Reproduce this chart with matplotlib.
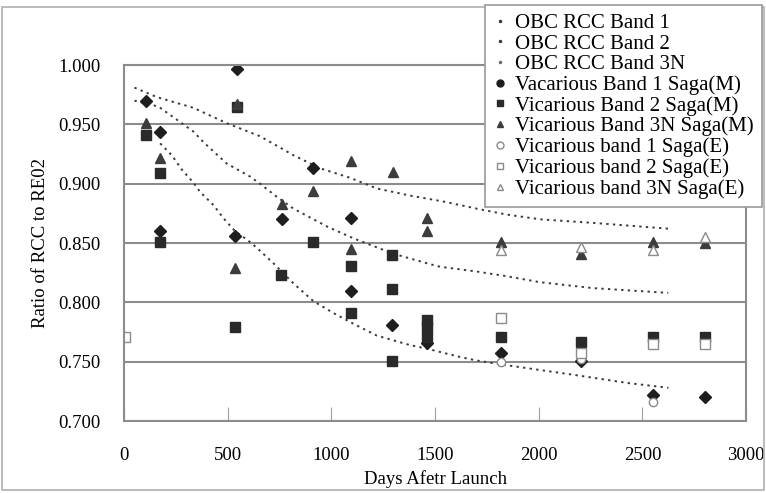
import matplotlib.pyplot as plt
from matplotlib.lines import Line2D
from matplotlib.patches import Rectangle

plt.rcParams['font.family'] = ['Liberation Serif', 'DejaVu Serif']

# OBC RCC trend curves (days after launch, ratio)
obc_b1_days = [174, 230, 278, 334, 367, 431, 479, 535, 592, 640, 720, 817, 913, 1010,
               1106, 1219, 1379, 1460, 1620, 1701, 1846, 2006, 2167, 2280, 2431, 2625]
obc_b1_vals = [0.934, 0.924, 0.912, 0.901, 0.893, 0.882, 0.871, 0.860, 0.853, 0.846, 0.833,
               0.816, 0.801, 0.791, 0.782, 0.772, 0.764, 0.761, 0.754, 0.751, 0.747, 0.743,
               0.739, 0.736, 0.732, 0.728]
obc_b2_days = [50, 166, 270, 334, 383, 495, 608, 656, 736, 817, 978, 1106, 1299, 1460,
               1524, 1701, 1846, 2006, 2263, 2625]
obc_b2_vals = [0.970, 0.965, 0.952, 0.944, 0.935, 0.917, 0.906, 0.900, 0.889, 0.879, 0.864,
               0.854, 0.841, 0.833, 0.830, 0.826, 0.822, 0.817, 0.812, 0.808]
obc_b3_days = [50, 158, 334, 495, 656, 817, 945, 1090, 1219, 1379, 1540, 1701, 1846, 2006,
               2262, 2633]
obc_b3_vals = [0.981, 0.973, 0.964, 0.951, 0.940, 0.924, 0.913, 0.905, 0.896, 0.890, 0.885,
               0.879, 0.874, 0.870, 0.867, 0.862]

# Vicarious calibration, Saga(M)
vm_b1_days = [106, 174, 174, 543, 535, 760, 913, 1095, 1095, 1290, 1460, 1820, 2205, 2550, 2800]
vm_b1_vals = [0.970, 0.944, 0.860, 0.997, 0.856, 0.870, 0.913, 0.871, 0.810, 0.781, 0.766,
              0.757, 0.751, 0.722, 0.720]
vm_b2_days = [106, 174, 174, 543, 535, 755, 913, 1095, 1095, 1290, 1290, 1290, 1460, 1460,
              1460, 1820, 2205, 2550, 2800]
vm_b2_vals = [0.941, 0.909, 0.851, 0.965, 0.779, 0.823, 0.851, 0.831, 0.791, 0.840, 0.811,
              0.751, 0.785, 0.779, 0.771, 0.771, 0.767, 0.771, 0.771]
vm_b3_days = [106, 174, 543, 535, 760, 913, 1095, 1095, 1296, 1460, 1460, 1820, 2205, 2550, 2800]
vm_b3_vals = [0.951, 0.922, 0.967, 0.829, 0.883, 0.894, 0.919, 0.845, 0.910, 0.871, 0.860,
              0.851, 0.841, 0.851, 0.850]

# Vicarious calibration, Saga(E)
ve_b1_days = [1820, 2205, 2550]
ve_b1_vals = [0.750, 0.752, 0.716]
ve_b2_days = [5, 1820, 2205, 2550, 2800]
ve_b2_vals = [0.771, 0.787, 0.757, 0.765, 0.765]
ve_b3_days = [1820, 2205, 2550, 2800]
ve_b3_vals = [0.844, 0.847, 0.844, 0.855]

y_ticks = [0.700, 0.750, 0.800, 0.850, 0.900, 0.950, 1.000]
x_ticks = [0, 500, 1000, 1500, 2000, 2500, 3000]

fig = plt.figure(figsize=(7.66, 4.93), dpi=100)
fig.patches.append(Rectangle((0.003, 0.006), 0.994, 0.98, transform=fig.transFigure,
                             fill=False, edgecolor='#b0b0b0', lw=1.2))
ax = fig.add_axes([0.162, 0.146, 0.812, 0.722])

grid_c = '#8c8c8c'
dark = '#1e1e1e'
dot_style = dict(color='#3a3a3a', lw=1.4, linestyle=(0, (1.2, 2.2)))

ax.plot(obc_b1_days, obc_b1_vals, **dot_style)
ax.plot(obc_b2_days, obc_b2_vals, **dot_style)
ax.plot(obc_b3_days, obc_b3_vals, **dot_style)

ax.plot(vm_b1_days, vm_b1_vals, 'D', ms=6, color=dark, ls='none')
ax.plot(vm_b2_days, vm_b2_vals, 's', ms=7, color='#2a2a2a', ls='none')
ax.plot(vm_b3_days, vm_b3_vals, '^', ms=7.5, color='#3c3c3c', ls='none')
ax.plot(ve_b1_days, ve_b1_vals, 'o', ms=6, mfc='white', mec='#8a8a8a', ls='none')
ax.plot(ve_b2_days, ve_b2_vals, 's', ms=7, mfc='white', mec='#8a8a8a', ls='none')
ax.plot(ve_b3_days, ve_b3_vals, '^', ms=7, mfc='white', mec='#8a8a8a', ls='none')

ax.set_xlim(0, 3000)
ax.set_ylim(0.700, 1.000)
ax.set_yticks(y_ticks)
ax.set_yticklabels([f'{v:.3f}' for v in y_ticks])
ax.set_xticks(x_ticks)
ax.set_xticklabels([str(v) for v in x_ticks])
ax.tick_params(axis='x', direction='in', length=10, color='#a0a0a0', pad=19, labelsize=13.5)
ax.tick_params(axis='y', length=0, pad=17, labelsize=13.5)
ax.yaxis.grid(True, color=grid_c, lw=1.5)
ax.set_axisbelow(True)
for s in ax.spines.values():
    s.set_color(grid_c)
    s.set_linewidth(1.5)

ax.set_xlabel('Days Afetr Launch', fontsize=13.5, labelpad=4)
ax.set_ylabel('Ratio of RCC to RE02', fontsize=13.5, labelpad=7)

handles = [
    Line2D([], [], marker='.', ms=3, color='#3a3a3a', ls='none'),
    Line2D([], [], marker='.', ms=3, color='#3a3a3a', ls='none'),
    Line2D([], [], marker='.', ms=3, color='#6a6a6a', ls='none'),
    Line2D([], [], marker='o', ms=5, color=dark, ls='none'),
    Line2D([], [], marker='s', ms=5, color='#2a2a2a', ls='none'),
    Line2D([], [], marker='^', ms=5, color='#3c3c3c', ls='none'),
    Line2D([], [], marker='o', ms=5, mfc='white', mec='#8a8a8a', ls='none'),
    Line2D([], [], marker='s', ms=5, mfc='white', mec='#8a8a8a', ls='none'),
    Line2D([], [], marker='^', ms=5, mfc='white', mec='#8a8a8a', ls='none'),
]
labels = ['OBC RCC Band 1', 'OBC RCC Band 2', 'OBC RCC Band 3N',
          'Vacarious Band 1 Saga(M)', 'Vicarious Band 2 Saga(M)',
          'Vicarious Band 3N Saga(M)', 'Vicarious band 1 Saga(E)',
          'Vicarious band 2 Saga(E)', 'Vicarious band 3N Saga(E)']
leg = fig.legend(handles, labels, loc='upper left', bbox_to_anchor=(485 / 766, 1 - 5 / 493),
                 bbox_transform=fig.transFigure, borderaxespad=0, fontsize=15,
                 handlelength=0.6, handletextpad=0.45, labelspacing=0.05,
                 borderpad=0.4, fancybox=False, framealpha=1, edgecolor='#9a9a9a')
leg.get_frame().set_linewidth(1.2)

fig.savefig('out.png', dpi=100)
